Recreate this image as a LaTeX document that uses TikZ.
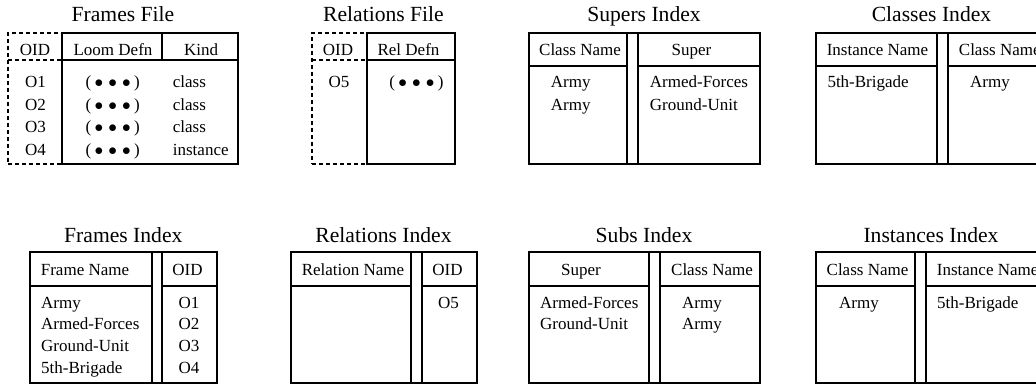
\documentclass[tikz,border=0pt]{standalone}
\usepackage{fontspec}
\setmainfont{Liberation Serif}

\newcommand{\elided}{(\hspace{.2em}$\bullet$\hspace{.3em}$\bullet$\hspace{.3em}$\bullet$\hspace{.2em})}

\begin{document}
\begin{tikzpicture}[
    x=1pt, y=-1pt,
    font=\fontsize{17}{20}\selectfont,
    cell/.style={draw, line width=1.3pt, outer sep=0pt, inner sep=0pt, anchor=north west},
    dcell/.style={cell, dash pattern=on 4pt off 3pt},
    dline/.style={line width=1.3pt, dash pattern=on 4pt off 3pt},
    ttl/.style={font=\fontsize{21.6}{26}\selectfont, anchor=base},
    ctext/.style={anchor=base, inner sep=0pt},
    ltext/.style={anchor=base west, inner sep=0pt}
]
    \useasboundingbox (0,0) rectangle (1036,385);

    % --- Frames File ---
    \node[ttl] (fft) at (123,22) {Frames File};
    \node[dcell, minimum width=54pt, minimum height=131pt] (ffoid) at (8,33) {};
    \node[cell, minimum width=100pt, minimum height=27pt] (ffdef) at (ffoid.north east) {};
    \node[cell, minimum width=76pt, minimum height=27pt] (ffkind) at (ffdef.north east) {};
    \node[cell, minimum width=176pt, minimum height=104pt] (ffbody) at (ffdef.south west) {};
    \draw[dline] (ffoid.west |- ffdef.south) -- (ffdef.south west);

    \begin{scope}[every node/.style={ctext}]
        \node (ffh1) at (35,56) {OID};
        \node (ffh2) at (113,56) {Loom Defn};
        \node (ffh3) at (201,56) {Kind};
        \node (ffo1) at (35.5,88) {O1};
        \node (ffo2) at (35.5,110.5) {O2};
        \node (ffo3) at (35.5,133) {O3};
        \node (ffo4) at (35.5,155) {O4};
        \node (ffd1) at (112.7,88) {\elided};
        \node (ffd2) at (112.7,110.5) {\elided};
        \node (ffd3) at (112.7,133) {\elided};
        \node (ffd4) at (112.7,155) {\elided};
    \end{scope}
    \begin{scope}[every node/.style={ltext}]
        \node (ffk1) at (172.7,88) {class};
        \node (ffk2) at (172.7,110.5) {class};
        \node (ffk3) at (172.7,133) {class};
        \node (ffk4) at (172.7,155) {instance};
    \end{scope}

    % --- Relations File ---
    \node[ttl] (rft) at (383.5,22) {Relations File};
    \node[dcell, minimum width=55pt, minimum height=131pt] (rfoid) at (312,33) {};
    \node[cell, minimum width=88pt, minimum height=27pt] (rfdef) at (rfoid.north east) {};
    \node[cell, minimum width=88pt, minimum height=104pt] (rfbody) at (rfdef.south west) {};
    \draw[dline] (rfoid.west |- rfdef.south) -- (rfdef.south west);

    \begin{scope}[every node/.style={ctext}]
        \node (rfh1) at (338,56) {OID};
        \node (rfh2) at (408.5,56) {Rel Defn};
        \node (rfo1) at (339,88) {O5};
        \node (rfd1) at (416.5,88) {\elided};
    \end{scope}

    % --- Supers Index ---
    \node[ttl] (sit) at (644,22) {Supers Index};
    \node[cell, minimum width=231pt, minimum height=131pt] (si) at (529,33) {};
    \node[cell, minimum width=98pt, minimum height=33pt] (sih1) at (si.north west) {};
    \node[cell, minimum width=98pt, minimum height=98pt] (sib1) at (sih1.south west) {};
    \node[cell, minimum width=122pt, minimum height=33pt] (sih2) at (638,33) {};
    \node[cell, minimum width=122pt, minimum height=98pt] (sib2) at (sih2.south west) {};

    \node[ctext] (sil1) at (580,55.7) {Class Name};
    \node[ctext] (sil2) at (691.5,55.7) {Super};
    \begin{scope}[every node/.style={ltext}]
        \node (sic1) at (550.7,88) {Army};
        \node (sic2) at (550.7,110.5) {Army};
        \node (sis1) at (649.7,88) {Armed-Forces};
        \node (sis2) at (649.7,110.5) {Ground-Unit};
    \end{scope}

    % --- Classes Index ---
    \node[ttl] (cit) at (931.5,22) {Classes Index};
    \node[cell, minimum width=254pt, minimum height=131pt] (ci) at (816,33) {};
    \node[cell, minimum width=121pt, minimum height=33pt] (cih1) at (ci.north west) {};
    \node[cell, minimum width=121pt, minimum height=98pt] (cib1) at (cih1.south west) {};
    \node[cell, minimum width=122pt, minimum height=33pt] (cih2) at (948,33) {};
    \node[cell, minimum width=122pt, minimum height=98pt] (cib2) at (cih2.south west) {};

    \node[ctext] (cil1) at (877.5,55.7) {Instance Name};
    \begin{scope}[every node/.style={ltext}]
        \node (cil2) at (958.7,55.7) {Class Name};
        \node (cii1) at (827.3,88) {5th-Brigade};
        \node (cic1) at (970,88) {Army};
    \end{scope}

    % --- Frames Index ---
    \node[ttl] (fit) at (123.3,242) {Frames Index};
    \node[cell, minimum width=187pt, minimum height=131pt] (fi) at (30,252) {};
    \node[cell, minimum width=122pt, minimum height=34pt] (fih1) at (fi.north west) {};
    \node[cell, minimum width=122pt, minimum height=97pt] (fib1) at (fih1.south west) {};
    \node[cell, minimum width=55pt, minimum height=34pt] (fih2) at (162,252) {};
    \node[cell, minimum width=55pt, minimum height=97pt] (fib2) at (fih2.south west) {};

    \node[ctext] (fil1) at (85,275.5) {Frame Name};
    \node[ctext] (fil2) at (187.5,275.5) {OID};
    \begin{scope}[every node/.style={ltext}]
        \node (fin1) at (41,308) {Army};
        \node (fin2) at (41,329.5) {Armed-Forces};
        \node (fin3) at (41,351) {Ground-Unit};
        \node (fin4) at (41,373) {5th-Brigade};
    \end{scope}
    \begin{scope}[every node/.style={ctext}]
        \node (fio1) at (189,308) {O1};
        \node (fio2) at (189,329.5) {O2};
        \node (fio3) at (189,351) {O3};
        \node (fio4) at (189,373) {O4};
    \end{scope}

    % --- Relations Index ---
    \node[ttl] (rit) at (383.5,242) {Relations Index};
    \node[cell, minimum width=186pt, minimum height=131pt] (ri) at (291,252) {};
    \node[cell, minimum width=120pt, minimum height=34pt] (rih1) at (ri.north west) {};
    \node[cell, minimum width=120pt, minimum height=97pt] (rib1) at (rih1.south west) {};
    \node[cell, minimum width=55pt, minimum height=34pt] (rih2) at (422,252) {};
    \node[cell, minimum width=55pt, minimum height=97pt] (rib2) at (rih2.south west) {};

    \begin{scope}[every node/.style={ctext}]
        \node (ril1) at (353,275.5) {Relation Name};
        \node (ril2) at (447.5,275.5) {OID};
        \node (rio1) at (448.5,308) {O5};
    \end{scope}

    % --- Subs Index ---
    \node[ttl] (sbt) at (644,242) {Subs Index};
    \node[cell, minimum width=231pt, minimum height=131pt] (sb) at (529,252) {};
    \node[cell, minimum width=120pt, minimum height=34pt] (sbh1) at (sb.north west) {};
    \node[cell, minimum width=120pt, minimum height=97pt] (sbb1) at (sbh1.south west) {};
    \node[cell, minimum width=100pt, minimum height=34pt] (sbh2) at (660,252) {};
    \node[cell, minimum width=100pt, minimum height=97pt] (sbb2) at (sbh2.south west) {};

    \node[ctext] (sbl1) at (581,275.5) {Super};
    \node[ctext] (sbl2) at (712,275.5) {Class Name};
    \begin{scope}[every node/.style={ltext}]
        \node (sbs1) at (540,308) {Armed-Forces};
        \node (sbs2) at (540,329.5) {Ground-Unit};
        \node (sbc1) at (682,308) {Army};
        \node (sbc2) at (682,329.5) {Army};
    \end{scope}

    % --- Instances Index ---
    \node[ttl] (iit) at (931,242) {Instances Index};
    \node[cell, minimum width=254pt, minimum height=131pt] (ii) at (816,252) {};
    \node[cell, minimum width=99pt, minimum height=34pt] (iih1) at (ii.north west) {};
    \node[cell, minimum width=99pt, minimum height=97pt] (iib1) at (iih1.south west) {};
    \node[cell, minimum width=144pt, minimum height=34pt] (iih2) at (926,252) {};
    \node[cell, minimum width=144pt, minimum height=97pt] (iib2) at (iih2.south west) {};

    \node[ctext] (iil1) at (867.5,275.5) {Class Name};
    \begin{scope}[every node/.style={ltext}]
        \node (iil2) at (936.7,275.5) {Instance Name};
        \node (iic1) at (839,308) {Army};
        \node (iii1) at (937,308) {5th-Brigade};
    \end{scope}

\end{tikzpicture}
\end{document}
